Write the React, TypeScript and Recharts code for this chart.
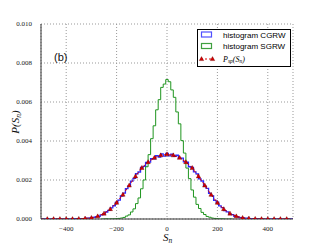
import React from 'react';
import { LineChart, Line, XAxis, YAxis, CartesianGrid, Legend } from 'recharts';

// bin centres of the histograms (step 10)
const BINS = Array.from({ length: 101 }, (_, i) => -500 + i * 10);

const CGRW = [
  0, 0, 0, 0, 0, 0, 0, 0, 0, 0,
  0.00001, 0, 0.00001, 0.00001, 0.00002, 0.00001, 0.00002, 0.00002, 0.00004, 0.00004,
  0.00007, 0.00008, 0.00012, 0.00014, 0.00021, 0.00026, 0.00036, 0.00044, 0.00057, 0.00068,
  0.00085, 0.00097, 0.00118, 0.00133, 0.00156, 0.0017, 0.00194, 0.00208, 0.00232, 0.00241,
  0.00264, 0.0027, 0.0029, 0.00292, 0.0031, 0.00309, 0.00325, 0.00318, 0.00334, 0.00322,
  0.00336,
  0.00324, 0.00332, 0.00321, 0.00327, 0.00311, 0.00312, 0.00293, 0.00291, 0.00268, 0.00265,
  0.00242, 0.00231, 0.00206, 0.00195, 0.00168, 0.00157, 0.00131, 0.00119, 0.00096, 0.00086,
  0.00067, 0.00058, 0.00043, 0.00037, 0.00025, 0.00022, 0.00014, 0.00012, 0.00007, 0.00007,
  0.00004, 0.00004, 0.00002, 0.00002, 0.00001, 0.00002, 0.00001, 0, 0.00001, 0,
  0, 0, 0, 0, 0, 0, 0, 0, 0, 0,
];

const SGRW_BINS = Array.from({ length: 53 }, (_, i) => -260 + i * 10);
const SGRW = [
  0, 0, 0.00001, 0, 0.00001, 0.00001, 0.00002, 0.00003, 0.00005, 0.00008,
  0.00015, 0.00021, 0.00036, 0.00052, 0.00079, 0.00108, 0.00155, 0.002, 0.00268, 0.0033,
  0.00412, 0.00478, 0.0056, 0.00612, 0.00675, 0.00692,
  0.00715,
  0.00704, 0.00662, 0.00624, 0.00549, 0.00488, 0.00402, 0.00338, 0.00261, 0.00207, 0.00149,
  0.00112, 0.00075, 0.00054, 0.00034, 0.00023, 0.00013, 0.00009, 0.00005, 0.00003, 0.00002,
  0.00001, 0.00001, 0, 0, 0, 0,
];

const SP_X = Array.from({ length: 41 }, (_, i) => -500 + i * 25);
const PSP = [
  0, 0, 0, 0, 0, 0, 0.00001, 0.00003, 0.00006, 0.00014,
  0.00028, 0.00051, 0.00084, 0.00125, 0.00172, 0.00219, 0.00262, 0.00292, 0.00314, 0.00327,
  0.00332,
  0.00327, 0.00314, 0.00292, 0.00262, 0.00219, 0.00172, 0.00125, 0.00084, 0.00051, 0.00028,
  0.00014, 0.00006, 0.00003, 0.00001, 0, 0, 0, 0, 0, 0,
];

const X_TICKS = [-400, -200, 0, 200, 400];
const Y_TICKS = [0, 0.002, 0.004, 0.006, 0.008, 0.01];

const cgrwData = BINS.map((s, i) => ({ s, p: CGRW[i] }));
const sgrwData = SGRW_BINS.map((s, i) => ({ s, p: SGRW[i] }));
const spData = SP_X.map((s, i) => ({ s, p: PSP[i] }));

const SERIF = '"Liberation Serif", "DejaVu Serif", serif';
const SANS = '"Liberation Sans", Arial, sans-serif';

const Tri = ({ cx, cy, hide }: { cx: number; cy: number; hide?: boolean }) => {
  if (hide || cx == null) return null;
  return (
    <path
      d={`M${cx},${cy - 2.4} L${cx + 2.2},${cy + 1.6} L${cx - 2.2},${cy + 1.6} Z`}
      fill="#d40000"
      stroke="#700000"
      strokeWidth={0.4}
    />
  );
};

const fmtX = (v: number) => (v < 0 ? '\u2212' + Math.abs(v) : String(v));

function LegendBox() {
  return (
    <svg width={95} height={39} style={{ display: 'block' }}>
      <rect x={0.5} y={0.5} width={93} height={37} fill="#fff" stroke="#000" strokeWidth={1} />
      <rect x={4.5} y={3} width={10} height={5} fill="#fff" stroke="#5050ff" strokeWidth={1.2} />
      <text x={26} y={8.5} fontFamily={SANS} fontSize={8}>histogram CGRW</text>
      <rect x={4.5} y={14.5} width={10} height={5} fill="#fff" stroke="#40a040" strokeWidth={1.2} />
      <text x={26} y={20} fontFamily={SANS} fontSize={8}>histogram SGRW</text>
      <line x1={4} x2={16} y1={30} y2={30} stroke="#e00000" strokeDasharray="2 2" />
      <Tri cx={4.5} cy={30} />
      <Tri cx={15.5} cy={30} />
      <text x={26} y={32.5} fontFamily={SERIF} fontSize={8} fontStyle="italic">
        P<tspan fontSize={5.5} dy={1.5}>sp</tspan>
        <tspan dy={-1.5}>(S</tspan>
        <tspan fontSize={5.5} dy={1.5}>n</tspan>
        <tspan dy={-1.5}>)</tspan>
      </text>
    </svg>
  );
}

export default function App() {
  return (
    <div style={{ position: 'absolute', left: 0, top: 0, background: '#fff' }}>
      <LineChart width={327} height={245} margin={{ top: 24, right: 34, bottom: 0, left: 0 }}>
        <CartesianGrid stroke="#999" strokeDasharray="1 2" />
        <XAxis
          dataKey="s"
          type="number"
          domain={[-500, 500]}
          ticks={X_TICKS}
          tickFormatter={fmtX}
          allowDataOverflow
          height={26}
          tickLine={false}
          tickMargin={1}
          axisLine={{ stroke: '#333' }}
          tick={{ fontSize: 7, fontFamily: SERIF, fill: '#222' }}
          label={{
            content: (props: any) => {
              const vb = props.viewBox || { x: 41, y: 219, width: 252 };
              return (
                <text x={vb.x + vb.width / 2 - 4} y={vb.y + 22} fontFamily={SERIF} fontSize={11} fontStyle="italic" fill="#111">
                  S<tspan fontSize={7.5} dy={2}>n</tspan>
                </text>
              );
            },
          }}
        />
        <XAxis xAxisId="top" orientation="top" type="number" domain={[-500, 500]} height={0} tick={false} tickLine={false} axisLine={{ stroke: '#333' }} />
        <YAxis
          type="number"
          domain={[0, 0.01]}
          ticks={Y_TICKS}
          tickFormatter={(v: number) => v.toFixed(3)}
          allowDataOverflow
          width={41}
          tickLine={false}
          tickMargin={3}
          axisLine={{ stroke: '#333' }}
          tick={{ fontSize: 7, fontFamily: SERIF, fill: '#222' }}
          label={{
            content: () => (
              <text x={19} y={122} transform="rotate(-90 19 122)" textAnchor="middle" fontFamily={SERIF} fontSize={11} fontStyle="italic" fill="#111">
                P(S<tspan fontSize={7.5} dy={2}>n</tspan>
                <tspan dy={-2}>)</tspan>
              </text>
            ),
          }}
        />
        <YAxis yAxisId="right" orientation="right" domain={[0, 0.01]} width={0} tick={false} tickLine={false} axisLine={{ stroke: '#333' }} />
        <Line
          data={cgrwData}
          dataKey="p"
          type="step"
          stroke="#2a2aff"
          strokeWidth={1.3}
          dot={false}
          isAnimationActive={false}
        />
        <Line
          data={sgrwData}
          dataKey="p"
          type="step"
          stroke="#1f951f"
          strokeWidth={1}
          dot={false}
          isAnimationActive={false}
        />
        <Line
          data={spData}
          dataKey="p"
          type="linear"
          stroke="#e00000"
          strokeWidth={1}
          strokeDasharray="3 2"
          dot={(p: any) => <Tri key={p.index} cx={p.cx} cy={p.cy} hide={p.payload.s === -500 || p.payload.s === 500} />}
          isAnimationActive={false}
        />
        <Legend
          layout="horizontal"
          verticalAlign="middle"
          align="center"
          content={() => <LegendBox />}
          wrapperStyle={{ position: 'absolute', left: 197, top: 29, width: 95, height: 39 }}
        />
        <text x={54} y={61} fontFamily={SANS} fontSize={11} fill="#111">(b)</text>
      </LineChart>
    </div>
  );
}
